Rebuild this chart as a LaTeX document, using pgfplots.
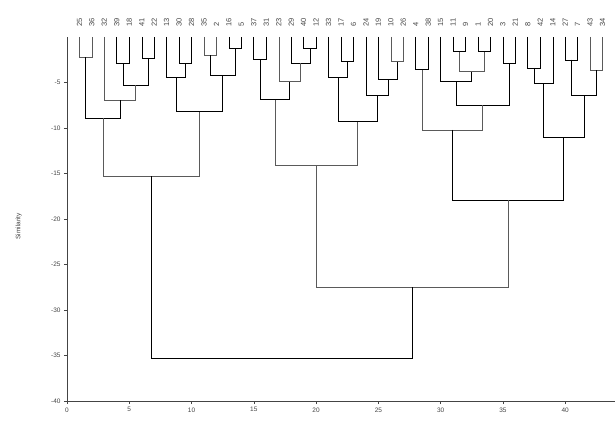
\documentclass[border=0pt]{standalone}
\usepackage{pgfplots}
\pgfplotsset{compat=1.18}
\usepackage{fontspec}
\setmainfont{Liberation Sans}
\definecolor{dend}{HTML}{5A5A5A}
\definecolor{axc}{HTML}{444444}
\begin{document}
\begin{tikzpicture}
\useasboundingbox (-67bp,-32bp) rectangle (549bp,401bp);
\begin{axis}[
  at={(0,0)}, anchor=south west,
  scale only axis, width=548bp, height=364bp,
  xmin=0, xmax=44, ymin=-40, ymax=0,
  axis lines=left,
  axis line style={draw=axc, line width=0.8bp, -},
  xtick={0,5,...,40},
  ytick={-40,-35,...,-5},
  tick align=outside,
  major tick length=3bp,
  tick style={draw=axc, line width=0.6bp},
  /pgf/number format/assume math mode=true,
  tick label style={font=\fontsize{6.5}{7}\selectfont, text=axc},
  ylabel={Similarity},
  ylabel style={at={(axis description cs:-0.088,0.48)}, anchor=center, font=\fontsize{6.5}{7}\selectfont, text=axc},
  clip=false,
  cycle list={{draw=dend, line width=0.8bp, mark=none, solid}},
]
\addplot coordinates {(1,0)(1,-2.2)(2,-2.2)(2,0)};
\addplot coordinates {(4,0)(4,-2.9)(5,-2.9)(5,0)};
\addplot coordinates {(6,0)(6,-2.3)(7,-2.3)(7,0)};
\addplot coordinates {(4.5,-2.9)(4.5,-5.3)(6.5,-5.3)(6.5,-2.3)};
\addplot coordinates {(3,0)(3,-6.9)(5.5,-6.9)(5.5,-5.3)};
\addplot coordinates {(1.5,-2.2)(1.5,-8.9)(4.25,-8.9)(4.25,-6.9)};
\addplot coordinates {(9,0)(9,-2.9)(10,-2.9)(10,0)};
\addplot coordinates {(8,0)(8,-4.4)(9.5,-4.4)(9.5,-2.9)};
\addplot coordinates {(11,0)(11,-2.0)(12,-2.0)(12,0)};
\addplot coordinates {(13,0)(13,-1.2)(14,-1.2)(14,0)};
\addplot coordinates {(11.5,-2.0)(11.5,-4.2)(13.5,-4.2)(13.5,-1.2)};
\addplot coordinates {(8.75,-4.4)(8.75,-8.2)(12.5,-8.2)(12.5,-4.2)};
\addplot coordinates {(2.875,-8.9)(2.875,-15.3)(10.625,-15.3)(10.625,-8.2)};
\addplot coordinates {(15,0)(15,-2.5)(16,-2.5)(16,0)};
\addplot coordinates {(19,0)(19,-1.2)(20,-1.2)(20,0)};
\addplot coordinates {(18,0)(18,-2.9)(19.5,-2.9)(19.5,-1.2)};
\addplot coordinates {(17,0)(17,-4.9)(18.75,-4.9)(18.75,-2.9)};
\addplot coordinates {(15.5,-2.5)(15.5,-6.9)(17.875,-6.9)(17.875,-4.9)};
\addplot coordinates {(22,0)(22,-2.7)(23,-2.7)(23,0)};
\addplot coordinates {(21,0)(21,-4.4)(22.5,-4.4)(22.5,-2.7)};
\addplot coordinates {(26,0)(26,-2.7)(27,-2.7)(27,0)};
\addplot coordinates {(25,0)(25,-4.7)(26.5,-4.7)(26.5,-2.7)};
\addplot coordinates {(24,0)(24,-6.4)(25.75,-6.4)(25.75,-4.7)};
\addplot coordinates {(21.75,-4.4)(21.75,-9.3)(24.875,-9.3)(24.875,-6.4)};
\addplot coordinates {(16.6875,-6.9)(16.6875,-14.1)(23.3125,-14.1)(23.3125,-9.3)};
\addplot coordinates {(28,0)(28,-3.6)(29,-3.6)(29,0)};
\addplot coordinates {(31,0)(31,-1.6)(32,-1.6)(32,0)};
\addplot coordinates {(33,0)(33,-1.6)(34,-1.6)(34,0)};
\addplot coordinates {(31.5,-1.6)(31.5,-3.8)(33.5,-3.8)(33.5,-1.6)};
\addplot coordinates {(30,0)(30,-4.9)(32.5,-4.9)(32.5,-3.8)};
\addplot coordinates {(35,0)(35,-2.9)(36,-2.9)(36,0)};
\addplot coordinates {(31.25,-4.9)(31.25,-7.5)(35.5,-7.5)(35.5,-2.9)};
\addplot coordinates {(28.5,-3.6)(28.5,-10.2)(33.375,-10.2)(33.375,-7.5)};
\addplot coordinates {(37,0)(37,-3.4)(38,-3.4)(38,0)};
\addplot coordinates {(37.5,-3.4)(37.5,-5.1)(39,-5.1)(39,0)};
\addplot coordinates {(40,0)(40,-2.5)(41,-2.5)(41,0)};
\addplot coordinates {(42,0)(42,-3.6)(43,-3.6)(43,0)};
\addplot coordinates {(40.5,-2.5)(40.5,-6.4)(42.5,-6.4)(42.5,-3.6)};
\addplot coordinates {(38.25,-5.1)(38.25,-11.0)(41.5,-11.0)(41.5,-6.4)};
\addplot coordinates {(30.9375,-10.2)(30.9375,-17.9)(39.875,-17.9)(39.875,-11.0)};
\addplot coordinates {(20,-14.1)(20,-27.5)(35.4063,-27.5)(35.4063,-17.9)};
\addplot coordinates {(6.75,-15.3)(6.75,-35.3)(27.7,-35.3)(27.7,-27.5)};
\end{axis}
\begin{axis}[
  at={(0,0)}, anchor=south west,
  scale only axis, width=548bp, height=364bp,
  xmin=0, xmax=44, ymin=-40, ymax=0,
  hide y axis,
  axis x line*=top,
  x axis line style={draw=none},
  xtick={1,...,43},
  xticklabels={25,36,32,39,18,41,22,13,30,28,35,2,16,5,37,31,23,29,40,12,33,17,6,24,19,10,26,4,38,15,11,9,1,20,3,21,8,42,14,27,7,43,34},
  major tick length=0pt,
  xticklabel shift=7bp,
  xticklabel style={rotate=90, anchor=west, font=\fontsize{7.5}{8}\selectfont, text=axc},
]
\addplot[draw=none, mark=none] coordinates {(0,0)};
\end{axis}
\end{tikzpicture}
\end{document}
